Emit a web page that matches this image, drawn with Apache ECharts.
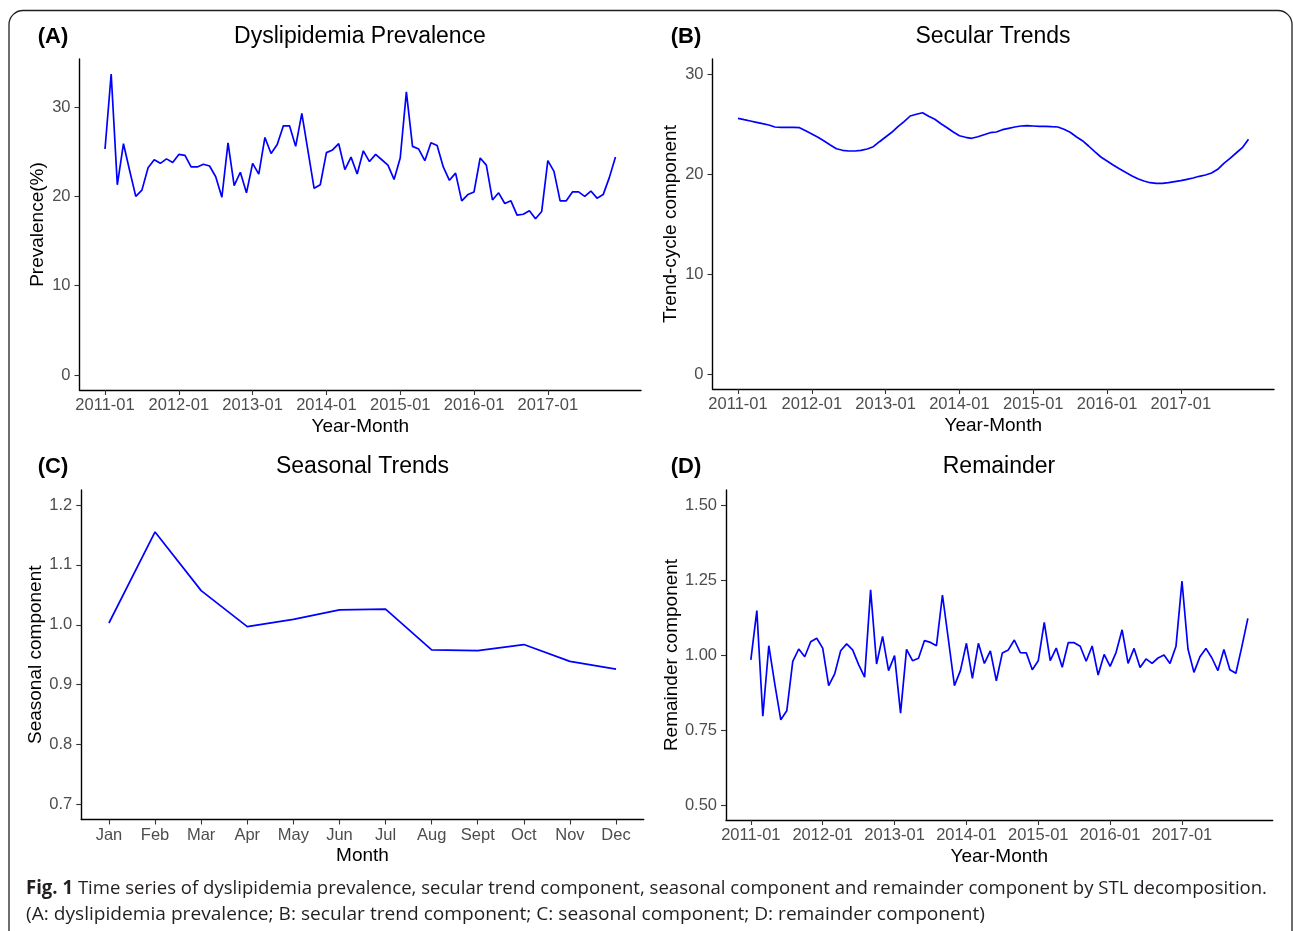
<!DOCTYPE html>
<html>
<head>
<meta charset="utf-8">
<script src="https://cdn.jsdelivr.net/npm/echarts@6/dist/echarts.min.js"></script>
<style>
html,body{margin:0;padding:0;background:#fff;}
#chart{width:1293px;height:931px;}
</style>
</head>
<body>
<div id="chart"></div>
<script>
// ---- DATA ----
const yearMonthTicks = ['2011-01','2012-01','2013-01','2014-01','2015-01','2016-01','2017-01'];
const yearMonthTickIndex = [0,12,24,36,48,60,72];
const monthLabels = ['Jan','Feb','Mar','Apr','May','Jun','Jul','Aug','Sept','Oct','Nov','Dec'];

const prevalence = [25.3,33.7,21.3,25.9,22.9,20.0,20.7,23.2,24.1,23.7,
  24.2,23.8,24.7,24.6,23.3,23.3,23.6,23.4,22.2,19.9,
  26.0,21.2,22.7,20.4,23.7,22.5,26.6,24.8,25.8,27.9,
  27.9,25.6,29.3,25.1,20.9,21.3,24.9,25.2,25.9,23.0,
  24.4,22.5,25.1,23.9,24.7,24.1,23.5,21.9,24.3,31.7,
  25.6,25.3,24.0,26.0,25.7,23.3,21.8,22.6,19.5,20.2,
  20.5,24.3,23.5,19.6,20.4,19.2,19.5,17.9,18.0,18.4,
  17.5,18.3,24.0,22.8,19.5,19.5,20.5,20.5,20.0,20.6,
  19.8,20.2,22.1,24.4];

const trend = [25.57,25.43,25.3,25.17,25.03,24.9,24.7,24.67,24.67,24.67,
  24.63,24.33,24.0,23.67,23.3,22.9,22.53,22.37,22.3,22.3,
  22.37,22.5,22.73,23.23,23.7,24.17,24.73,25.23,25.8,25.97,
  26.13,25.77,25.47,25.03,24.63,24.2,23.83,23.67,23.57,23.73,
  23.93,24.13,24.2,24.43,24.57,24.7,24.8,24.83,24.8,24.77,
  24.77,24.73,24.7,24.47,24.17,23.73,23.33,22.8,22.23,21.7,
  21.3,20.9,20.53,20.17,19.83,19.53,19.3,19.13,19.07,19.07,
  19.13,19.23,19.33,19.47,19.6,19.77,19.9,20.1,20.47,21.07,
  21.57,22.1,22.63,23.47];

const seasonal = [1.003,1.155,1.057,0.997,1.009,1.025,1.026,0.958,0.957,0.967,0.939,0.926];

const remainder = [0.984,1.148,0.796,1.031,0.903,0.784,0.814,0.979,1.020,0.994,
  1.044,1.056,1.023,0.898,0.937,1.014,1.037,1.017,0.968,0.926,
  1.217,0.970,1.062,0.948,0.998,0.806,1.019,0.981,0.989,1.048,
  1.042,1.031,1.200,1.050,0.898,0.948,1.039,0.922,1.039,0.972,
  1.014,0.914,1.007,1.017,1.050,1.008,1.007,0.951,0.981,1.109,
  0.981,1.023,0.959,1.041,1.041,1.029,0.979,1.030,0.933,1.002,
  0.962,1.009,1.084,0.972,1.022,0.958,0.987,0.972,0.990,1.000,
  0.972,1.029,1.246,1.020,0.942,0.994,1.022,0.990,0.948,1.018,
  0.951,0.939,1.028,1.122];

const prevalenceTicks = [0,10,20,30];
const trendTicks = [0,10,20,30];
const seasonalTicks = [0.7,0.8,0.9,1.0,1.1,1.2];
const remainderTicks = [0.5,0.75,1.0,1.25,1.5];

const captionBold = 'Fig. 1';
const captionLine1 = ' Time series of dyslipidemia prevalence, secular trend component, seasonal component and remainder component by STL decomposition.';
const captionLine2 = '(A: dyslipidemia prevalence; B: secular trend component; C: seasonal component; D: remainder component)';

// ---- helpers ----
const FONT = '"Liberation Sans", Arial, sans-serif';
const tickColor = '#4D4D4D';
const tickFont = 16.5;
function expand(lo, hi){ const d=(hi-lo)*0.05; return [lo-d, hi+d]; }
const nMonths = prevalence.length;
const xr = expand(0, nMonths-1);
const toPairs = arr => arr.map((v,i)=>[i,v]);

function xAxisYM(gi){
  return {
    type:'value', gridIndex:gi, min:xr[0], max:xr[1],
    name:'Year-Month', nameLocation:'middle', nameGap:27,
    nameTextStyle:{fontFamily:FONT,fontSize:19,color:'#000'},
    axisLine:{onZero:false,lineStyle:{color:'#000',width:1.4}},
    axisTick:{show:true,length:5,lineStyle:{color:'#333',width:1.1},customValues:yearMonthTickIndex},
    axisLabel:{customValues:yearMonthTickIndex,margin:7,fontFamily:FONT,fontSize:tickFont,color:tickColor,
      formatter:v=>yearMonthTicks[yearMonthTickIndex.indexOf(Math.round(v))] || ''},
    splitLine:{show:false}
  };
}
function yAxisDef(gi, lo, hi, ticks, name, dec){
  const r = expand(lo, hi);
  return {
    type:'value', gridIndex:gi, min:r[0], max:r[1],
    name:name, nameLocation:'middle', nameGap:32,
    nameTextStyle:{fontFamily:FONT,fontSize:19,color:'#000'},
    axisLine:{show:true,onZero:false,lineStyle:{color:'#000',width:1.4}},
    axisTick:{show:true,length:5,lineStyle:{color:'#333',width:1.1},customValues:ticks},
    axisLabel:{customValues:ticks,margin:9,fontFamily:FONT,fontSize:tickFont,color:tickColor,
      formatter:v=>Number(v).toFixed(dec)},
    splitLine:{show:false}
  };
}
const lineStyle = {color:'#0000FF',width:1.7};
function lineSeries(gi, data){
  return {type:'line', xAxisIndex:gi, yAxisIndex:gi, data:data, showSymbol:false, symbol:'none',
    lineStyle:lineStyle, itemStyle:{color:'#0000FF'}, silent:true, animation:false};
}

const chart = echarts.init(document.getElementById('chart'), null, {renderer:'canvas'});

// caption width fitting
const cv = document.createElement('canvas').getContext('2d');
const capSize = 19;
cv.font = 'bold '+capSize+'px "Open Sans"';
const wB = cv.measureText(captionBold).width;
cv.font = capSize+'px "Open Sans"';
const wR = cv.measureText(captionLine1).width;
const w2 = cv.measureText(captionLine2).width;
const capScale = (1267-26)/(wB+wR);
const capScale2 = (985-26)/w2;

function txt(x,y,text,size,bold,align){
  return {type:'text', x:x, y:y, silent:true,
    style:{text:text, font:(bold?'bold ':'')+size+'px '+FONT, fill:'#000',
      align:align||'center', verticalAlign:'middle', textAlign:align||'center', textVerticalAlign:'middle'}};
}

const grids = [
  {left:79.5, top:59, width:561.5, height:331},
  {left:712.5, top:59, width:561.5, height:330},
  {left:81.3, top:490, width:562.4, height:329.5},
  {left:726, top:490, width:546.7, height:330}
];

const option = {
  animation:false,
  backgroundColor:'#fff',
  grid: grids.map(g=>Object.assign({containLabel:false},g)),
  xAxis:[
    xAxisYM(0),
    xAxisYM(1),
    {type:'value', gridIndex:2, min:-0.6, max:monthLabels.length-1+0.6,
      name:'Month', nameLocation:'middle', nameGap:27,
      nameTextStyle:{fontFamily:FONT,fontSize:19,color:'#000'},
      axisLine:{onZero:false,lineStyle:{color:'#000',width:1.4}},
      axisTick:{show:true,length:5,lineStyle:{color:'#333',width:1.1},customValues:monthLabels.map((m,i)=>i)},
      axisLabel:{customValues:monthLabels.map((m,i)=>i),margin:7,fontFamily:FONT,fontSize:tickFont,color:tickColor,
        formatter:v=>monthLabels[Math.round(v)] || ''},
      splitLine:{show:false}},
    xAxisYM(3)
  ],
  yAxis:[
    yAxisDef(0, 0, Math.max(...prevalence), prevalenceTicks, 'Prevalence(%)', 0),
    yAxisDef(1, 0, 30, trendTicks, 'Trend-cycle component', 0),
    yAxisDef(2, 0.7, 1.2, seasonalTicks, 'Seasonal component', 1),
    yAxisDef(3, 0.5, 1.5, remainderTicks, 'Remainder component', 2)
  ],
  series:[
    lineSeries(0, toPairs(prevalence)),
    lineSeries(1, toPairs(trend)),
    lineSeries(2, toPairs(seasonal)),
    lineSeries(3, toPairs(remainder))
  ],
  graphic:[
    {type:'rect', silent:true, shape:{x:9, y:10.5, width:1283, height:1000, r:14},
      style:{fill:'none', stroke:'#231F20', lineWidth:1.3}},
    txt(53,37,'(A)',22,true),
    txt(360,37,'Dyslipidemia Prevalence',23,false),
    txt(686,37,'(B)',22,true),
    txt(993,37,'Secular Trends',23,false),
    txt(53,467,'(C)',22,true),
    txt(362.5,467,'Seasonal Trends',23,false),
    txt(686,467,'(D)',22,true),
    txt(999,467,'Remainder',23,false),
    {type:'text', x:26, y:889, scaleX:capScale, silent:true,
      style:{text:'{b|'+captionBold+'}{r|'+captionLine1+'}', fill:'#231F20',
        verticalAlign:'middle', textVerticalAlign:'middle',
        rich:{b:{fontFamily:'"Open Sans"',fontWeight:'bold',fontSize:capSize,fill:'#231F20',color:'#231F20'},
              r:{fontFamily:'"Open Sans"',fontSize:capSize,fill:'#231F20',color:'#231F20'}}}},
    {type:'text', x:26, y:915, scaleX:capScale2, silent:true,
      style:{text:captionLine2, font:capSize+'px "Open Sans"', fill:'#231F20',
        verticalAlign:'middle', textVerticalAlign:'middle'}}
  ]
};
chart.setOption(option);
</script>
</body>
</html>
